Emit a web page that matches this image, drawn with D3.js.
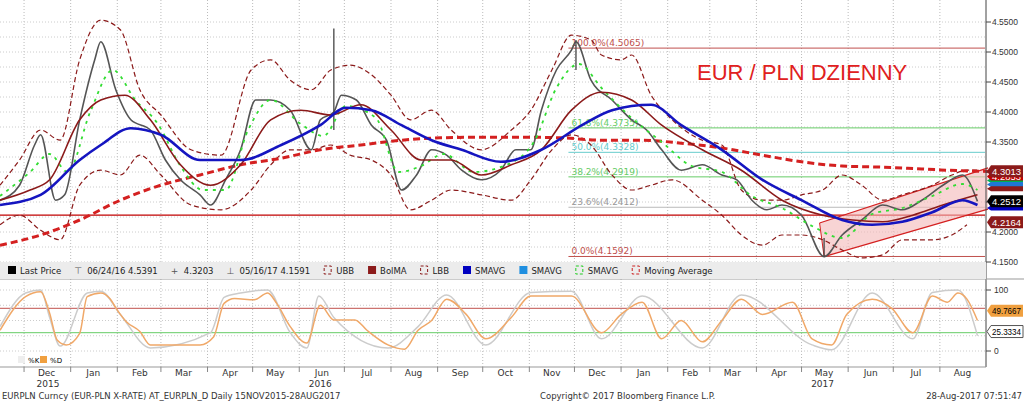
<!DOCTYPE html>
<html><head><meta charset="utf-8">
<script src="https://cdn.jsdelivr.net/npm/d3@7"></script>
<style>body{margin:0;background:#fff}svg{display:block;font-family:"DejaVu Sans",sans-serif}</style>
</head><body><svg id="c" width="1024" height="401"></svg>
<script>
// days since 15-Nov-2015, value
var price = [[0,4.253],[13,4.278],[23,4.345],[27,4.362],[37,4.253],[43,4.262],[53,4.387],[63,4.487],[67,4.517],[77,4.437],[87,4.387],[100,4.37],[110,4.32],[120,4.287],[133,4.262],[140,4.245],[150,4.287],[160,4.337],[170,4.42],[180,4.42],[193,4.403],[207,4.337],[213,4.387],[222,4.40],[227,4.428],[237,4.42],[247,4.378],[257,4.353],[267,4.27],[277,4.295],[287,4.337],[297,4.328],[307,4.303],[320,4.287],[333,4.303],[343,4.337],[353,4.337],[360,4.403],[370,4.47],[380,4.503],[383,4.517],[393,4.453],[407,4.42],[420,4.387],[430,4.37],[440,4.337],[453,4.303],[467,4.312],[480,4.295],[490,4.287],[500,4.253],[510,4.237],[520,4.245],[533,4.228],[548,4.159],[560,4.195],[573,4.22],[587,4.245],[600,4.237],[613,4.253],[627,4.278],[640,4.295],[650,4.251]];
var spikes = [[222,4.37,4.5391],[383,4.47,4.5200],[548,4.1591,4.19]];
var smaBlue = [[0,4.245],[27,4.262],[53,4.32],[67,4.345],[87,4.373],[107,4.362],[133,4.32],[160,4.32],[187,4.345],[213,4.378],[230,4.407],[247,4.403],[267,4.378],[287,4.353],[307,4.337],[333,4.317],[360,4.337],[387,4.378],[407,4.403],[433,4.412],[453,4.378],[480,4.337],[507,4.287],[533,4.253],[560,4.22],[580,4.212],[600,4.217],[620,4.233],[640,4.253],[650,4.245]];
var bolMA = [[0,4.253],[20,4.27],[33,4.287],[53,4.387],[67,4.42],[83,4.428],[100,4.387],[120,4.312],[140,4.278],[160,4.312],[180,4.387],[200,4.403],[220,4.395],[240,4.412],[260,4.37],[280,4.32],[300,4.32],[320,4.295],[340,4.312],[360,4.337],[380,4.403],[400,4.433],[420,4.42],[440,4.378],[467,4.337],[493,4.303],[520,4.253],[547,4.228],[567,4.22],[587,4.217],[607,4.228],[627,4.245],[650,4.262]];
var sma200 = [[0,4.178],[27,4.195],[53,4.22],[80,4.253],[107,4.278],[133,4.295],[160,4.312],[187,4.323],[213,4.337],[240,4.345],[267,4.353],[293,4.357],[320,4.358],[347,4.358],[373,4.357],[400,4.353],[427,4.353],[453,4.348],[480,4.34],[507,4.328],[533,4.317],[560,4.31],[587,4.308],[613,4.305],[640,4.302],[657,4.301]];
var upperBB = [[0,4.278],[13,4.32],[27,4.37],[40,4.353],[53,4.487],[67,4.553],[80,4.537],[93,4.437],[107,4.395],[127,4.337],[147,4.328],[167,4.47],[180,4.487],[193,4.453],[207,4.437],[220,4.47],[233,4.478],[247,4.462],[260,4.428],[273,4.387],[287,4.403],[300,4.37],[320,4.337],[340,4.37],[353,4.403],[367,4.47],[380,4.528],[393,4.52],[400,4.495],[413,4.487],[420,4.495],[433,4.428],[447,4.387],[467,4.353],[480,4.345],[493,4.27],[507,4.253],[520,4.253],[533,4.262],[547,4.27],[560,4.295],[573,4.278],[587,4.253],[600,4.262],[620,4.278],[633,4.295],[643,4.303],[650,4.303]];
var lowerBB = [[0,4.212],[13,4.228],[27,4.203],[40,4.187],[53,4.278],[67,4.303],[80,4.295],[93,4.328],[107,4.295],[127,4.245],[147,4.237],[167,4.27],[180,4.312],[193,4.337],[207,4.337],[220,4.345],[233,4.328],[247,4.32],[260,4.295],[273,4.237],[287,4.253],[300,4.27],[320,4.262],[340,4.253],[353,4.287],[367,4.337],[380,4.362],[393,4.345],[407,4.295],[420,4.27],[433,4.278],[447,4.287],[467,4.253],[480,4.228],[493,4.195],[507,4.178],[520,4.195],[533,4.195],[547,4.187],[560,4.17],[573,4.157],[587,4.162],[600,4.187],[620,4.187],[633,4.195],[643,4.212]];
var smaGreen = [[0,4.26],[20,4.30],[33,4.33],[45,4.30],[60,4.40],[75,4.47],[90,4.42],[105,4.38],[120,4.31],[135,4.27],[150,4.27],[165,4.37],[180,4.42],[200,4.38],[215,4.36],[230,4.41],[250,4.39],[265,4.30],[280,4.31],[295,4.33],[315,4.30],[335,4.31],[355,4.35],[370,4.44],[385,4.48],[400,4.44],[420,4.39],[440,4.35],[460,4.31],[480,4.30],[500,4.26],[520,4.24],[540,4.21],[560,4.19],[580,4.23],[600,4.24],[620,4.26],[640,4.28],[650,4.27]];
var fibLevels = [["100.0%",4.5065,"#c0504d"],["61.8%",4.3735,"#66cc66"],["50.0%",4.3328,"#66cccc"],["38.2%",4.2919,"#66cc66"],["23.6%",4.2412,"#bbbbbb"],["0.0%",4.1592,"#c0504d"]];
var channelUp = [[545,4.215],[657,4.307]];
var channelLo = [[548,4.159],[657,4.238]];
var support = 4.2164;
var stochD = [[0,34],[17,89],[27,97],[33,62],[38,18],[44,10],[53,29],[58,89],[67,95],[73,86],[78,67],[84,48],[93,32],[100,10],[116,10],[133,10],[142,23],[149,78],[156,86],[169,84],[178,95],[184,78],[193,40],[204,13],[213,75],[222,51],[236,51],[244,34],[258,10],[269,3],[278,34],[287,50],[297,85],[310,60],[323,20],[340,55],[353,90],[380,90],[400,30],[413,60],[427,80],[440,20],[453,50],[467,15],[480,50],[493,85],[507,60],[527,80],[540,20],[553,10],[563,60],[580,85],[593,70],[607,30],[620,90],[630,80],[637,95],[643,85],[650,50]];
var stochK = [[0,40],[17,95],[27,100],[33,55],[40,8],[58,95],[67,98],[80,60],[100,5],[140,30],[149,88],[160,95],[178,100],[193,30],[204,5],[212,90],[222,55],[258,5],[278,40],[297,92],[323,10],[353,96],[380,98],[400,20],[427,90],[467,5],[493,92],[540,10],[553,2],[580,95],[607,20],[620,96],[637,100],[650,25]];
var priceTicks = [4.15,4.20,4.25,4.30,4.35,4.40,4.45,4.50,4.55];
var stochTicks = [0,100];
var monthNames = ["Dec","Jan","Feb","Mar","Apr","May","Jun","Jul","Aug","Sep","Oct","Nov","Dec","Jan","Feb","Mar","Apr","May","Jun","Jul","Aug"];
var yearLabels = [["2015",16],["2016",213],["2017",547]];
// unlabelled stacked tags first, labelled ones last
var rightLabels = [["","#00b050",4.2860],["","#1f77d4",4.2790],["","#8b1a1a",4.2720],["","#0000c0",4.2400],["4.2853","#c00000",4.2925],["4.3013","#8b1a1a",4.3013],["4.2512","#000",4.2512],["4.2164","#8b1a1a",4.2164]];
var legendItems = [["Last Price","#000","box"],["06/24/16 4.5391","#555","hi"],["4.3203","#555","avg"],["05/16/17 4.1591","#555","lo"],["UBB","#8b1a1a","dash"],["BolMA","#8b1a1a","box"],["LBB","#8b1a1a","dash"],["SMAVG","#0000c0","box"],["SMAVG","#1f8fe0","box"],["SMAVG","#22cc22","dash"],["Moving Average","#cc2222","dash"]];

var svg = d3.select("#c");
var start = new Date(2015,10,15);
var day = d => d3.timeDay.offset(start, d);
var x = d3.scaleTime().domain([start, new Date(2017,7,31)]).range([0,985]);
var y = d3.scaleLinear().domain([4.15,4.5]).range([262,52]);
var y2 = d3.scaleLinear().domain([0,100]).range([351,290]);

// grid
var months = d3.timeMonth.range(new Date(2015,11,1), new Date(2017,8,1));
svg.append("g").selectAll("line").data(months).join("line")
  .attr("x1",d=>x(d)).attr("x2",d=>x(d)).attr("y1",0).attr("y2",367)
  .attr("stroke","#bbb").attr("stroke-dasharray","1,2");
svg.append("g").selectAll("line").data(d3.range(4.15,4.56,0.025)).join("line")
  .attr("x1",0).attr("x2",985).attr("y1",d=>y(d)).attr("y2",d=>y(d))
  .attr("stroke","#ccc").attr("stroke-dasharray","1,2");
svg.append("g").selectAll("line").data([0,25,50,75,100]).join("line")
  .attr("x1",0).attr("x2",985).attr("y1",d=>y2(d)).attr("y2",d=>y2(d))
  .attr("stroke","#ccc").attr("stroke-dasharray","1,2");

// fib
fibLevels.forEach(f => {
  svg.append("line").attr("x1",x(day(378))).attr("x2",985).attr("y1",y(f[1])).attr("y2",y(f[1])).attr("stroke",f[2]).attr("stroke-width",1);
  svg.append("text").attr("x",x(day(380))).attr("y",y(f[1])-2).attr("font-size",9).attr("fill",f[2]==="#bbbbbb"?"#999":f[2])
    .text(f[0]+"("+f[1].toFixed(4)+")");
});
svg.append("line").attr("x1",0).attr("x2",985).attr("y1",y(support)-7).attr("y2",y(support)-7).attr("stroke","#c00000").attr("stroke-width",1.2);

// channel
var cu = channelUp.map(p=>[x(day(p[0])),y(p[1])]), cl = channelLo.map(p=>[x(day(p[0])),y(p[1])]);
svg.append("polygon").attr("points",[cu[0],cu[1],cl[1],cl[0]].join(" ")).attr("fill","#f4b8b8").attr("opacity",0.6);
[cu,cl].forEach(c=>svg.append("line").attr("x1",c[0][0]).attr("y1",c[0][1]).attr("x2",c[1][0]).attr("y2",c[1][1]).attr("stroke","#d42020").attr("stroke-width",1.3));
svg.append("line").attr("x1",cu[0][0]).attr("y1",cu[0][1]).attr("x2",cl[0][0]).attr("y2",cl[0][1]).attr("stroke","#d42020");

var line = d3.line().x(d=>x(day(d[0]))).y(d=>y(d[1])).curve(d3.curveMonotoneX);
function draw(data,col,w,dash){svg.append("path").attr("d",line(data)).attr("fill","none").attr("stroke",col).attr("stroke-width",w).attr("stroke-dasharray",dash||null);}
draw(upperBB,"#8b1a1a",1.2,"5,3");
draw(lowerBB,"#8b1a1a",1.2,"5,3");
draw(sma200,"#d42020",3,"7,4");
draw(price,"#555",1.6);
spikes.forEach(s=>svg.append("line").attr("x1",x(day(s[0]))).attr("x2",x(day(s[0]))).attr("y1",y(s[1])).attr("y2",y(s[2])).attr("stroke","#444").attr("stroke-width",1.3));
draw(smaGreen,"#33dd33",1.8,"3,5");
draw(bolMA,"#8b1a1a",1.6);
draw(smaBlue,"#1515c0",2.6);

svg.append("text").attr("x",697).attr("y",80).attr("font-family","Liberation Sans Narrow, Arial Narrow, sans-serif").attr("font-size",22).attr("fill","#e02020").text("EUR / PLN DZIENNY");

// right axis
svg.append("line").attr("x1",986).attr("x2",986).attr("y1",0).attr("y2",367).attr("stroke","#444");
svg.append("line").attr("x1",0).attr("x2",1024).attr("y1",279).attr("y2",279).attr("stroke","#999");
svg.append("line").attr("x1",0).attr("x2",986).attr("y1",367).attr("y2",367).attr("stroke","#999");
priceTicks.forEach(t=>{svg.append("line").attr("x1",986).attr("x2",991).attr("y1",y(t)).attr("y2",y(t)).attr("stroke","#444");
  svg.append("text").attr("x",992).attr("y",y(t)+3).attr("font-size",8.5).attr("font-family","Liberation Sans, sans-serif").attr("fill","#333").text(t.toFixed(4));});
stochTicks.forEach(t=>{svg.append("line").attr("x1",986).attr("x2",991).attr("y1",y2(t)).attr("y2",y2(t)).attr("stroke","#444");
  svg.append("text").attr("x",994).attr("y",y2(t)+3).attr("font-size",8.5).attr("font-family","Liberation Sans, sans-serif").attr("fill","#333").text(t);});
function tag(v,yy,bg,fg,h){
  h = h||12;
  svg.append("path").attr("d",`M987,${yy} l4,-${h/2} h32 v${h} h-32 z`).attr("fill",bg).attr("stroke",bg==="#fff"?"#555":"none");
  if(v) svg.append("text").attr("x",992).attr("y",yy+3.5).attr("font-size",9.5).attr("textLength",29).attr("lengthAdjust","spacingAndGlyphs")
    .attr("font-family","Liberation Sans, sans-serif").attr("fill",fg).text(v);
}
rightLabels.forEach(r=>tag(r[0],y(r[2]),r[1],"#fff",r[0]===""?5:(r[0]==="4.2853"?8:12)));

// stochastic panel
svg.append("line").attr("x1",0).attr("x2",985).attr("y1",y2(70)).attr("y2",y2(70)).attr("stroke","#c0504d");
svg.append("line").attr("x1",0).attr("x2",985).attr("y1",y2(30)).attr("y2",y2(30)).attr("stroke","#66cc66");
var l2 = d3.line().x(d=>x(day(d[0]))).y(d=>y2(d[1])).curve(d3.curveMonotoneX);
svg.append("path").attr("d",l2(stochK)).attr("fill","none").attr("stroke","#ccc").attr("stroke-width",1.5);
svg.append("path").attr("d",l2(stochD)).attr("fill","none").attr("stroke","#f0a868").attr("stroke-width",1.5);
tag("49.7667",y2(49.7667)-10,"#f0a040","#000");
tag("25.3334",y2(25.3334)-4,"#fff","#000");
svg.append("rect").attr("x",18).attr("y",356).attr("width",7).attr("height",7).attr("fill","#eee");
svg.append("text").attr("x",28).attr("y",363).attr("font-size",7).text("%K");
svg.append("rect").attr("x",40).attr("y",356).attr("width",7).attr("height",7).attr("fill","#f0a040");
svg.append("text").attr("x",50).attr("y",363).attr("font-size",7).text("%D");

// legend bar
svg.append("rect").attr("x",0).attr("y",262).attr("width",986).attr("height",17).attr("fill","#ececec");
var lx = 4;
legendItems.forEach(it=>{
  var g = svg.append("g");
  if(it[2]==="box") g.append("rect").attr("x",lx+4).attr("y",266).attr("width",8).attr("height",8).attr("fill",it[1]);
  else if(it[2]==="dash") g.append("rect").attr("x",lx+4).attr("y",266).attr("width",7).attr("height",8).attr("fill","none").attr("stroke",it[1]).attr("stroke-dasharray","3,2");
  else g.append("text").attr("x",lx+3).attr("y",274).attr("font-size",9).attr("fill","#555").text(it[2]==="hi"?"⊤":it[2]==="lo"?"⊥":"+");
  var t = g.append("text").attr("x",lx+16).attr("y",274).attr("font-size",8.5).attr("fill","#222").text(it[0]);
  lx += 16 + t.node().getComputedTextLength() + 10;
});

// months
svg.append("g").selectAll("text").data(months.slice(0,21)).join("text")
  .attr("x",d=>x(d3.timeDay.offset(d,15))).attr("y",376).attr("text-anchor","middle").attr("font-size",9).attr("fill","#333")
  .text((d,i)=>monthNames[i]);
svg.append("g").selectAll("line").data(months).join("line")
  .attr("x1",d=>x(d)).attr("x2",d=>x(d)).attr("y1",367).attr("y2",372).attr("stroke","#888");
yearLabels.forEach(yl=>svg.append("text").attr("x",x(day(yl[1]))+ (yl[0]==="2015"?24:0)).attr("y",387).attr("text-anchor","middle").attr("font-size",9).attr("fill","#333").text(yl[0]));
svg.append("text").attr("x",2).attr("y",399).attr("font-size",8.5).attr("fill","#333").text("EURPLN Curncy (EUR-PLN X-RATE) AT_EURPLN_D  Daily 15NOV2015-28AUG2017");
svg.append("text").attr("x",540).attr("y",399).attr("font-size",8.5).attr("fill","#333").text("Copyright© 2017 Bloomberg Finance L.P.");
svg.append("text").attr("x",1022).attr("y",399).attr("text-anchor","end").attr("font-size",8.5).attr("fill","#333").text("28-Aug-2017 07:51:47");
</script></body></html>
